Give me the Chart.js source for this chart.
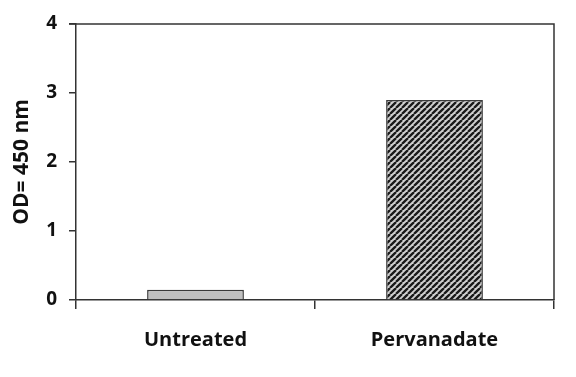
<!DOCTYPE html>
<html><head><meta charset="utf-8">
<script src="https://cdn.jsdelivr.net/npm/chart.js@4/dist/chart.umd.min.js"></script>
<style>html,body{margin:0;padding:0;background:#fff}#wrap{width:576px;height:377px}</style>
</head><body><div id="wrap"><canvas id="c" width="576" height="377"></canvas></div>
<script>
const categories = ["Untreated", "Pervanadate"];
const odValues = [0.15, 2.9];
const yTicks = [0, 1, 2, 3, 4];

function hatch() {
  const s = 6;
  const p = document.createElement('canvas');
  p.width = s; p.height = s;
  const g = p.getContext('2d');
  g.fillStyle = '#d0d0d0';
  g.fillRect(0, 0, s, s);
  g.strokeStyle = '#1a1a1a';
  g.lineWidth = 2.3;
  g.beginPath();
  for (let k = -1; k <= 1; k++) {
    g.moveTo(k * s, s);
    g.lineTo(k * s + s, 0);
  }
  g.stroke();
  return g.createPattern(p, 'repeat');
}

const boxPlugin = {
  id: 'box',
  afterDraw(chart) {
    const a = chart.chartArea, ctx = chart.ctx;
    ctx.save();
    ctx.strokeStyle = '#333';
    ctx.lineWidth = 1.5;
    ctx.beginPath();
    ctx.moveTo(a.left - 7, a.top);
    ctx.lineTo(a.right, a.top);
    ctx.lineTo(a.right, a.bottom);
    ctx.stroke();
    ctx.restore();
  }
};

new Chart(document.getElementById('c'), {
  type: 'bar',
  data: {
    labels: categories,
    datasets: [{
      data: odValues,
      backgroundColor: ['#c0c0c0', hatch()],
      borderColor: '#3a3a3a',
      borderWidth: 1.5,
      borderSkipped: 'bottom',
      barPercentage: 0.405,
      categoryPercentage: 1
    }]
  },
  options: {
    responsive: false,
    animation: false,
    devicePixelRatio: 1,
    layout: { padding: { top: 24, right: 22, left: 0, bottom: 0 } },
    plugins: { legend: { display: false }, tooltip: { enabled: false } },
    scales: {
      x: {
        afterFit(s) { s.height = 77; },
        grid: { drawOnChartArea: false, offset: true, tickLength: 9, color: '#333', lineWidth: 1.5 },
        border: { color: '#333', width: 1.5 },
        ticks: { color: '#111', padding: 19, font: { family: 'Open Sans', weight: 'bold', size: 20 } }
      },
      y: {
        min: 0, max: 4,
        afterFit(s) { s.width = 76; },
        afterBuildTicks(s) { s.ticks = yTicks.map(v => ({ value: v })); },
        grid: { drawOnChartArea: false, tickLength: 7, color: '#333', lineWidth: 1.5 },
        border: { color: '#333', width: 1.5 },
        ticks: { color: '#111', padding: 12, font: { family: 'Open Sans', weight: 'bold', size: 19 } },
        title: { display: true, text: 'OD= 450 nm', color: '#111', padding: { top: 9, bottom: 0 },
                 font: { family: 'Open Sans', weight: 'bold', size: 21 } }
      }
    }
  },
  plugins: [boxPlugin]
});
</script></body></html>
